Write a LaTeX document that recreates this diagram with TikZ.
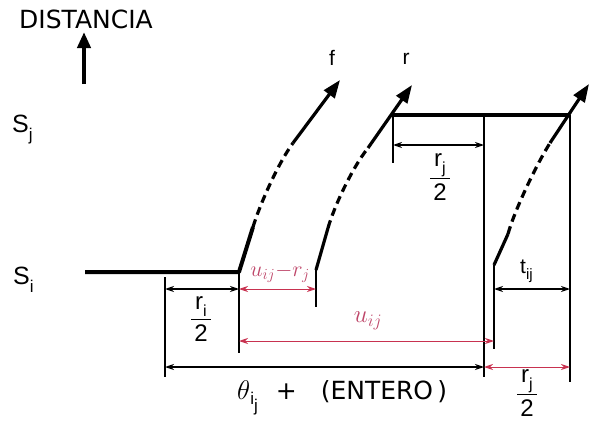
\RequirePackage{fix-cm}
\documentclass[tikz,border=0pt]{standalone}
\usepackage{fontspec}
\setmainfont{DejaVu Sans}
\newfontfamily\lab{Liberation Sans}
\usetikzlibrary{arrows.meta}
\definecolor{dimred}{RGB}{200,50,80}
\definecolor{txtred}{RGB}{190,70,105}
\newcommand\sbs[2][17]{\raisebox{-0.32em}{\fontsize{#1}{#1}\selectfont #2}}
\newcommand\frc[2]{$\displaystyle\frac{\hbox{\,#1\,}}{\hbox{#2}}$}
\begin{document}
\begin{tikzpicture}[x=1pt,y=-1pt,
  level/.style={line width=4pt,line join=round},
  curve/.style={line width=3.2pt},
  dashcurve/.style={line width=3.2pt,dash pattern=on 8pt off 5pt},
  curvehead/.style={-{Triangle[length=18pt,width=13pt]}},
  vline/.style={line width=1.3pt},
  dimtip/.style={{Stealth[length=9pt,width=6pt]}-{Stealth[length=9pt,width=6pt]}},
  dimblack/.style={line width=1.3pt,dimtip},
  dimredline/.style={line width=1pt,draw=dimred,dimtip},
  lbl/.style={font=\lab\fontsize{25}{27}\selectfont,inner sep=0pt},
  fraclbl/.style={font=\lab\fontsize{24}{26}\selectfont,inner sep=0pt},
  smalllbl/.style={font=\lab\fontsize{21}{23}\selectfont,inner sep=0pt},
  big/.style={font=\fontsize{25}{28}\selectfont,inner sep=0pt},
  redlbl/.style={text=txtred,inner sep=0pt}]
\useasboundingbox (0,0) rectangle (590,423);

% title and axis arrow
\node[big] (title) at (86,19) {DISTANCIA};
\coordinate (ab) at (84,84);
\coordinate (at) at (84,32);
\draw[line width=4pt,-{Triangle[length=16pt,width=13pt]}] (ab) -- (at);

% level labels
\node[lbl,anchor=base west] (sj) at (12,132) {S\sbs{j}};
\node[lbl,anchor=base west] (si) at (13,284) {S\sbs{i}};

% key points
\coordinate (si0) at (85,272);
\coordinate (f0) at (239,272);
\coordinate (f1) at (253,227);
\coordinate (f2) at (293,143);
\coordinate (f3) at (340,80);
\coordinate (r0) at (316,270);
\coordinate (r1) at (328,228);
\coordinate (r2) at (368,148);
\coordinate (r3) at (412,85);
\coordinate (sj0) at (392,115);
\coordinate (sj1) at (568,115);
\coordinate (g0) at (494,265);
\coordinate (g1) at (508,234);
\coordinate (g2) at (550,143);
\coordinate (g3) at (589,84);

% curve f
\draw[level] (si0) -- (f0) -- (f1);
\draw[dashcurve] (f1) .. controls (259,207) and (277,165) .. (f2);
\draw[curve,curvehead] (f2) -- (f3);
\node[smalllbl] (flab) at (332,58) {f};

% curve r
\draw[curve] (r0) -- (r1);
\draw[dashcurve] (r1) .. controls (334,207) and (352,168) .. (r2);
\draw[curve,curvehead] (r2) -- (r3);
\node[smalllbl] (rlab) at (406,59) {r};

% level Sj
\draw[level] (sj0) -- (sj1);

% third curve
\draw[curve] (g0) -- (g1);
\draw[dashcurve] (g1) .. controls (514,212) and (535,167) .. (g2);
\draw[curve,curvehead] (g2) -- (g3);

% vertical extension lines
\coordinate (v1t) at (165,277);  \coordinate (v1b) at (165,377);
\coordinate (v2b) at (239,353);
\coordinate (v3b) at (316,307);
\coordinate (v4t) at (393,115);  \coordinate (v4b) at (393,163);
\coordinate (v5t) at (484,115);  \coordinate (v5b) at (484,377);
\coordinate (v6b) at (494,349);
\coordinate (v7t) at (570,115);  \coordinate (v7b) at (570,382);
\draw[vline] (v1t) -- (v1b);
\draw[vline] (f0) -- (v2b);
\draw[vline] (r0) -- (v3b);
\draw[vline] (v4t) -- (v4b);
\draw[vline] (v5t) -- (v5b);
\draw[vline] (g0) -- (v6b);
\draw[vline] (v7t) -- (v7b);

% dimension lines
\coordinate (d1a) at (393,145); \coordinate (d1b) at (484,145);
\draw[dimblack] (d1a) -- (d1b);
\node[fraclbl] (rj2top) at (440,177) {\frc{r\sbs[16]{j}}{2}};

\coordinate (d2a) at (165,289); \coordinate (d2b) at (239,289);
\draw[dimblack] (d2a) -- (d2b);
\node[fraclbl] (ri2) at (201,319) {\frc{r\sbs[16]{i}}{2}};

\coordinate (d3b) at (316,289);
\draw[dimredline] (d2b) -- (d3b);
\node[redlbl,font=\fontsize{22}{24}\selectfont] (umr) at (280,273) {$u_{ij}{-}r_j$};

\coordinate (d4a) at (239,341); \coordinate (d4b) at (494,341);
\draw[dimredline] (d4a) -- (d4b);
\node[redlbl,font=\fontsize{25}{27}\selectfont] (ulab) at (368,321) {$u_{ij}$};

\coordinate (d5a) at (165,367); \coordinate (d5b) at (484,367);
\draw[dimblack] (d5a) -- (d5b);
\node[big,anchor=base west] (theta) at (237,399)
  {{\fontsize{27}{30}\selectfont$\theta$}\raisebox{-0.22em}{\lab\fontsize{17}{17}\selectfont i\raisebox{-0.4em}{j}}\hspace{18pt}+\hspace{24pt}(ENTERO\,)};

\coordinate (d6b) at (570,367);
\draw[dimredline] (d5b) -- (d6b);
\node[fraclbl] (rj2bot) at (527,393) {\frc{r\sbs[16]{j}}{2}};

\coordinate (d7a) at (494,289); \coordinate (d7b) at (570,289);
\draw[dimblack] (d7a) -- (d7b);
\node[smalllbl,anchor=base west] (tij) at (520,273) {t\sbs[15]{ij}};
\end{tikzpicture}
\end{document}
